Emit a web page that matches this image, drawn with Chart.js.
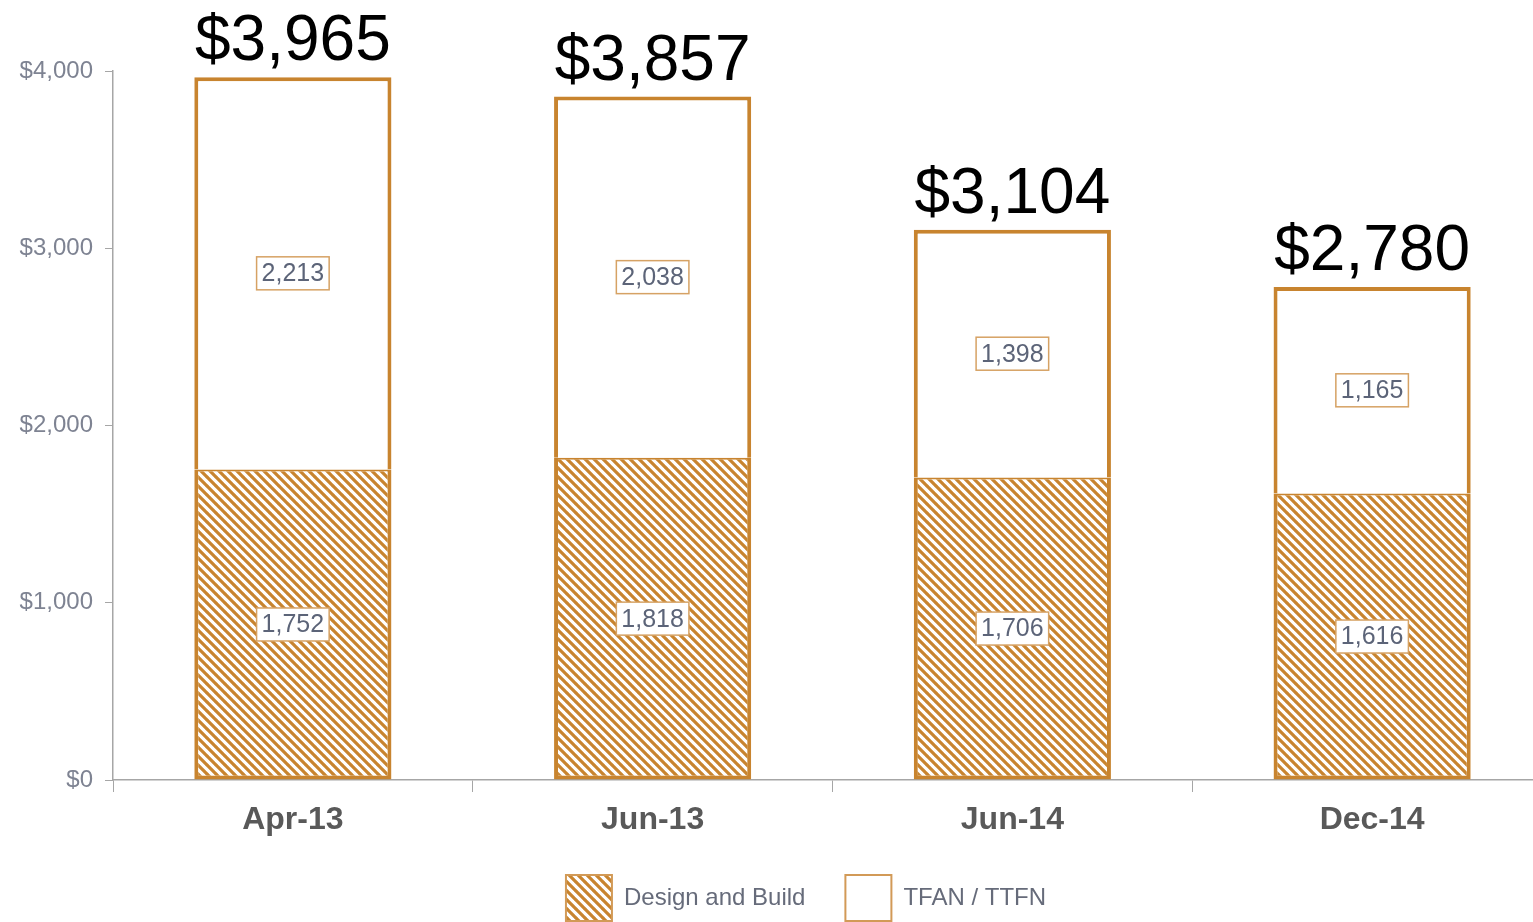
<!DOCTYPE html>
<html>
<head>
<meta charset="utf-8">
<script src="https://cdn.jsdelivr.net/npm/chart.js@4.4.1/dist/chart.umd.min.js"></script>
<style>
  html, body { margin: 0; padding: 0; background: #fff; overflow: hidden; }
  #wrap { width: 1533px; height: 922px; overflow: hidden; position: relative; }
  #costChart { position: absolute; left: 0; top: 0; }
</style>
</head>
<body>
<div id="wrap"><canvas id="costChart" width="1552" height="922"></canvas></div>
<script>
// chart data
const periods = ['Apr-13', 'Jun-13', 'Jun-14', 'Dec-14'];
const designBuild = [1752, 1818, 1706, 1616];
const tfanTtfn = [2213, 2038, 1398, 1165];
const totals = [3965, 3857, 3104, 2780];
const yTicks = [0, 1000, 2000, 3000, 4000];

const orange = '#C8842F';
const fontFam = '"Liberation Sans", Arial, sans-serif';

function hatch(color) {
    let s = 9;
    let c = document.createElement('canvas');
    c.width = s; c.height = s;
    let g = c.getContext('2d');
    g.fillStyle = '#fff';
    g.fillRect(0, 0, s, s);
    g.strokeStyle = color;
    g.lineWidth = 3.2;
    g.beginPath();
    for (let k = -1; k <= 1; k++) {
        g.moveTo(k * s - 1, -1);
        g.lineTo(k * s + s + 1, s + 1);
    }
    g.stroke();
    return g.createPattern(c, 'repeat');
}

const ctx = document.getElementById('costChart').getContext('2d');
const stripes = hatch(orange);

// labels inside segments + totals on top
const barLabels = {
    id: 'barLabels',
    afterLayout(chart) {
        // legend sits lower and right of centre in the original
        let lg = chart.legend;
        lg.top += 9; lg.bottom += 9;
        lg.left += 30; lg.right += 30;
        // don't clip the category labels
        chart.scales.x.bottom = chart.scales.x.top + 70;
    },
    afterDatasetsDraw(chart) {
        let c = chart.ctx;
        c.save();
        c.font = '25px ' + fontFam;
        c.textAlign = 'center';
        c.textBaseline = 'middle';
        chart.data.datasets.forEach((ds, di) => {
            let meta = chart.getDatasetMeta(di);
            meta.data.forEach((el, i) => {
                let txt = ds.data[i].toLocaleString('en-US');
                let cy = (el.y + el.base) / 2;
                let w = c.measureText(txt).width + 10;
                let h = 33;
                c.fillStyle = '#fff';
                c.fillRect(el.x - w / 2, cy - h / 2, w, h);
                c.strokeStyle = '#D6A264';
                c.lineWidth = 1.5;
                c.strokeRect(el.x - w / 2, cy - h / 2, w, h);
                c.fillStyle = '#5C6478';
                c.fillText(txt, el.x, cy + 1);
            });
        });
        let top = chart.getDatasetMeta(1);
        c.font = '64px ' + fontFam;
        c.fillStyle = '#000';
        c.textBaseline = 'alphabetic';
        top.data.forEach((el, i) => {
            c.fillText('$' + totals[i].toLocaleString('en-US'), el.x, el.y - 17);
        });
        c.restore();
    }
};

const chart = new Chart(ctx, {
    type: 'bar',
    plugins: [barLabels],
    data: {
        labels: periods,
        datasets: [{
            label: 'Design and Build',
            data: designBuild,
            backgroundColor: stripes,
            borderColor: orange,
            borderWidth: { top: 2, left: 4, right: 4, bottom: 4 },
            borderSkipped: false,
            categoryPercentage: 1,
            barPercentage: 0.548
        }, {
            label: 'TFAN / TTFN',
            data: tfanTtfn,
            backgroundColor: '#fff',
            borderColor: orange,
            borderWidth: 4,
            borderSkipped: 'start',
            categoryPercentage: 1,
            barPercentage: 0.548
        }]
    },
    options: {
        responsive: false,
        animation: false,
        layout: { padding: { top: 71, left: 0, right: 0, bottom: 0 } },
        plugins: {
            tooltip: { enabled: false },
            legend: {
                position: 'bottom',
                labels: {
                    boxWidth: 46,
                    boxHeight: 46,
                    padding: 40,
                    font: { family: fontFam, size: 24 },
                    generateLabels: (ch) => ch.data.datasets.map((ds, i) => ({
                        text: ds.label,
                        fillStyle: ds.backgroundColor,
                        strokeStyle: '#D29A57',
                        fontColor: '#666B7A',
                        lineWidth: 2,
                        datasetIndex: i
                    }))
                }
            }
        },
        scales: {
            x: {
                stacked: true,
                afterFit: (s) => { s.height = 46; },
                grid: { drawOnChartArea: false, offset: true, tickLength: 12, color: '#A6A6A6' },
                border: { color: '#A6A6A6', width: 1.5 },
                ticks: {
                    color: '#595959',
                    padding: 9,
                    font: { family: fontFam, size: 32, weight: 'bold' }
                }
            },
            y: {
                stacked: true,
                min: 0,
                max: 4000,
                afterFit: (s) => { s.width = 113; },
                afterBuildTicks: (s) => { s.ticks = yTicks.map(v => ({ value: v })); },
                grid: { drawOnChartArea: false, tickLength: 8, color: '#A6A6A6' },
                border: { color: '#A6A6A6', width: 1.5 },
                ticks: {
                    color: '#7E8392',
                    padding: 12,
                    font: { family: fontFam, size: 24 },
                    callback: (v) => '$' + Number(v).toLocaleString('en-US')
                }
            }
        }
    }
});
</script>
</body>
</html>
